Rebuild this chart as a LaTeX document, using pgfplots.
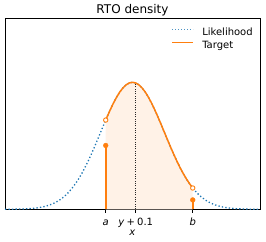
\documentclass[border=0pt]{standalone}
\usepackage{pgfplots}
\pgfplotsset{compat=1.18}
\usepackage{fontspec}
\setmainfont{DejaVu Sans}
\definecolor{cblue}{HTML}{1F77B4}
\definecolor{corange}{HTML}{FF7F0E}
\definecolor{cfill}{RGB}{255,242,231}
\begin{document}
\begin{tikzpicture}
\begin{axis}[
  scale only axis, width=255pt, height=191pt,
  xmin=-4, xmax=4, ymin=0, ymax=0.6,
  axis line style={black, line width=0.8pt},
  ytick=\empty,
  xtick={-0.84,0.1,1.89},
  xticklabels={{\textit{a}},{\textit{y}\hspace{2.2pt}+\hspace{2.2pt}0.1},{\textit{b}}},
  xtick pos=lower, tick align=outside, major tick length=3.5pt,
  tick style={black, line width=0.8pt},
  xticklabel style={anchor=base, yshift=-12.4pt, font=\fontsize{10}{12}\selectfont},
  xlabel={\textit{x}},
  xlabel style={at={(axis description cs:0.5,0)}, anchor=base, yshift=-25.7pt, font=\fontsize{10}{12}\selectfont},
  title={RTO density},
  title style={at={(axis description cs:0.5,1)}, anchor=base, yshift=-1.7pt, font=\fontsize{12}{14}\selectfont},
  legend style={draw=none, fill=none, at={(axis description cs:1,1)}, anchor=north east,
    inner sep=0pt, outer sep=0pt,
    xshift=-7.3pt, yshift=-9.9pt, row sep=3pt, font=\fontsize{10}{12}\selectfont,
    nodes={inner sep=0pt, text height=7.5pt, text depth=2.2pt},
    /tikz/every odd column/.append style={column sep=8.4pt}},
  legend cell align=left,
]
\addlegendimage{legend image code/.code={\draw[cblue!80, line width=1.1pt, dash pattern=on 1.1pt off 1.9pt] (0pt,3.4pt) -- (21pt,3.4pt);}}
\addlegendentry{Likelihood}
\addlegendimage{legend image code/.code={\draw[corange, line width=1.5pt] (0pt,3.4pt) -- (21pt,3.4pt);}}
\addlegendentry{Target}
% fill under target
\addplot[fill=cfill, draw=none, forget plot] coordinates {
(-0.84,0) (-0.84,0.2803) (-0.8,0.2897) (-0.7,0.3123) (-0.6,0.3332) (-0.5,0.3521) (-0.4,0.3683) (-0.3,0.3814) (-0.2,0.3910) (-0.1,0.3970)
(0.0,0.3989) (0.1,0.3970) (0.2,0.3910) (0.3,0.3814) (0.4,0.3683) (0.5,0.3521) (0.6,0.3332) (0.7,0.3123) (0.8,0.2897) (0.9,0.2661)
(1.0,0.2420) (1.1,0.2179) (1.2,0.1942) (1.3,0.1714) (1.4,0.1497) (1.5,0.1295) (1.6,0.1109) (1.7,0.0940) (1.8,0.0790) (1.89,0.0669) (1.89,0)
} \closedcycle;
% likelihood
\addplot[cblue, line width=1.3pt, dash pattern=on 1.3pt off 2.2pt, forget plot] coordinates {
(-4.0,0.0001) (-3.9,0.0002) (-3.8,0.0003) (-3.7,0.0004) (-3.6,0.0006) (-3.5,0.0009) (-3.4,0.0012) (-3.3,0.0017) (-3.2,0.0024) (-3.1,0.0033)
(-3.0,0.0044) (-2.9,0.0060) (-2.8,0.0079) (-2.7,0.0104) (-2.6,0.0136) (-2.5,0.0175) (-2.4,0.0224) (-2.3,0.0283) (-2.2,0.0355) (-2.1,0.0440)
(-2.0,0.0540) (-1.9,0.0656) (-1.8,0.0790) (-1.7,0.0940) (-1.6,0.1109) (-1.5,0.1295) (-1.4,0.1497) (-1.3,0.1714) (-1.2,0.1942) (-1.1,0.2179)
(-1.0,0.2420) (-0.9,0.2661) (-0.8,0.2897) (-0.7,0.3123) (-0.6,0.3332) (-0.5,0.3521) (-0.4,0.3683) (-0.3,0.3814) (-0.2,0.3910) (-0.1,0.3970)
(0.0,0.3989) (0.1,0.3970) (0.2,0.3910) (0.3,0.3814) (0.4,0.3683) (0.5,0.3521) (0.6,0.3332) (0.7,0.3123) (0.8,0.2897) (0.9,0.2661)
(1.0,0.2420) (1.1,0.2179) (1.2,0.1942) (1.3,0.1714) (1.4,0.1497) (1.5,0.1295) (1.6,0.1109) (1.7,0.0940) (1.8,0.0790) (1.9,0.0656)
(2.0,0.0540) (2.1,0.0440) (2.2,0.0355) (2.3,0.0283) (2.4,0.0224) (2.5,0.0175) (2.6,0.0136) (2.7,0.0104) (2.8,0.0079) (2.9,0.0060)
(3.0,0.0044) (3.1,0.0033) (3.2,0.0024) (3.3,0.0017) (3.4,0.0012) (3.5,0.0009) (3.6,0.0006) (3.7,0.0004) (3.8,0.0003) (3.9,0.0002) (4.0,0.0001)
};
% target
\addplot[corange, line width=1.5pt, forget plot] coordinates {
(-0.84,0.2803) (-0.8,0.2897) (-0.7,0.3123) (-0.6,0.3332) (-0.5,0.3521) (-0.4,0.3683) (-0.3,0.3814) (-0.2,0.3910) (-0.1,0.3970)
(0.0,0.3989) (0.1,0.3970) (0.2,0.3910) (0.3,0.3814) (0.4,0.3683) (0.5,0.3521) (0.6,0.3332) (0.7,0.3123) (0.8,0.2897) (0.9,0.2661)
(1.0,0.2420) (1.1,0.2179) (1.2,0.1942) (1.3,0.1714) (1.4,0.1497) (1.5,0.1295) (1.6,0.1109) (1.7,0.0940) (1.8,0.0790) (1.89,0.0669)
};
% vertical dotted at y+0.1
\addplot[black!85, line width=1pt, dash pattern=on 1pt off 1.3pt, forget plot] coordinates {(0.1,0) (0.1,0.3970)};
% point masses (stems)
\addplot[draw=corange, line width=1.8pt, forget plot] coordinates {(-0.84,0) (-0.84,0.2005)};
\addplot[draw=corange, line width=1.8pt, forget plot] coordinates {(1.89,0) (1.89,0.0294)};
\addplot[only marks, mark=*, mark size=2.4pt, mark options={fill=corange, draw=corange}, forget plot] coordinates {(-0.84,0.2005) (1.89,0.0294)};
% open circles
\addplot[only marks, mark=*, mark size=2.2pt, mark options={fill=white, draw=corange, line width=0.9pt}, forget plot] coordinates {(-0.84,0.2803) (1.89,0.0669)};
\end{axis}
\pgfresetboundingbox
\path ([xshift=-5pt,yshift=-32.7pt]current axis.south west) rectangle ([xshift=6pt,yshift=18.3pt]current axis.north east);
\end{tikzpicture}
\end{document}
